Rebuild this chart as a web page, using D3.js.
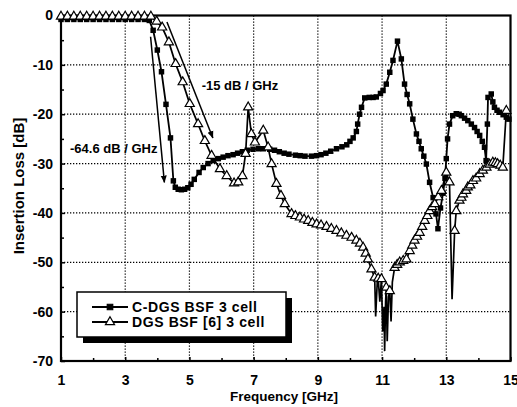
<!DOCTYPE html>
<meta charset="utf-8">
<style>
  body { margin: 0; background: #fff; }
  text { font-family: "Liberation Sans", Arial, sans-serif; font-weight: bold; fill: #000; }
</style>
<svg width="517" height="407"></svg>
<script src="https://d3js.org/d3.v7.min.js"></script>
<script>
	// tick values
	var xTicks = [1, 3, 5, 7, 9, 11, 13, 15];
	var xMinor = [2, 4, 6, 8, 10, 12, 14];
	var yTicks = [0, -10, -20, -30, -40, -50, -60, -70];
	var yMinor = [-5, -15, -25, -35, -45, -55, -65];

	// C-DGS BSF 3 cell (filled squares)
	var cdgsFreq = [1.0, 1.2, 1.4, 1.6, 1.8, 2.0, 2.2, 2.4, 2.6, 2.8, 3.0, 3.2, 3.4, 3.6, 3.75, 3.87, 4.0, 4.13, 4.27, 4.41,
		4.5, 4.56, 4.65, 4.75, 4.85, 4.95, 5.05, 5.15, 5.3, 5.43, 5.58, 5.74, 5.9, 6.05, 6.2, 6.36, 6.5, 6.65, 6.8, 6.98,
		7.15, 7.3, 7.5, 7.65, 7.8, 7.95, 8.1, 8.3, 8.45, 8.6, 8.8, 8.96, 9.1, 9.25, 9.4, 9.58, 9.75, 9.9, 10.0, 10.1,
		10.2, 10.24, 10.3, 10.36, 10.46, 10.6, 10.72, 10.82, 10.95, 11.03, 11.13, 11.24, 11.34, 11.48, 11.6, 11.7, 11.78, 11.86, 11.96, 12.07,
		12.15, 12.22, 12.3, 12.38, 12.48, 12.59, 12.68, 12.74, 12.82, 12.9, 12.96, 13.0, 13.04, 13.1, 13.2, 13.31, 13.4, 13.47, 13.57, 13.67,
		13.78, 13.88, 13.96, 14.04, 14.12, 14.19, 14.24, 14.28, 14.3, 14.4, 14.45, 14.5, 14.58, 14.66, 14.77, 14.87, 14.95];
	var cdgsLoss = [-0.8, -0.8, -0.8, -0.8, -0.8, -0.8, -0.8, -0.8, -0.8, -0.8, -0.8, -0.8, -0.8, -0.8, -1.0, -3.0, -7.0, -11.4, -18.0, -24.8,
		-33.5, -34.8, -35.2, -35.3, -35.2, -34.9, -34.2, -33.2, -31.8, -30.8, -30.0, -29.4, -29.0, -28.7, -28.4, -28.2, -27.9, -27.6, -27.3, -27.1,
		-27.0, -27.0, -27.1, -27.3, -27.6, -27.9, -28.1, -28.3, -28.4, -28.5, -28.5, -28.4, -28.2, -27.9, -27.5, -27.0, -26.6, -26.2, -25.5, -24.8,
		-23.5, -22.0, -20.0, -18.6, -16.7, -16.6, -16.6, -16.5, -15.8, -15.2, -13.9, -11.5, -9.1, -5.2, -8.8, -13.9, -16.0, -17.9, -21.0, -24.0,
		-25.5, -27.0, -28.5, -30.1, -33.8, -36.9, -40.2, -43.2, -39.0, -36.0, -33.0, -29.0, -25.0, -22.0, -20.3, -19.9, -20.0, -20.3, -20.8, -21.3,
		-22.0, -22.7, -23.5, -24.3, -25.5, -26.7, -29.4, -22.0, -16.6, -15.9, -17.5, -18.6, -19.2, -19.6, -20.1, -20.6, -21.0];

	// DGS BSF [6] 3 cell (open triangles)
	var dgsFreq = [1.0, 1.2, 1.4, 1.6, 1.8, 2.0, 2.2, 2.4, 2.6, 2.8, 3.0, 3.2, 3.4, 3.6, 3.8,
		3.98, 4.15, 4.36, 4.57, 4.79, 5.01, 5.27, 5.48, 5.69, 5.95,
		6.16, 6.39, 6.52, 6.65, 6.75, 6.83, 6.93, 7.04, 7.3, 7.45,
		7.56, 7.71, 7.85, 7.97, 8.18, 8.3, 8.44, 8.57, 8.7, 8.83,
		8.96, 9.1, 9.27, 9.42, 9.58, 9.73, 9.89, 10.05, 10.2, 10.31,
		10.41, 10.49, 10.56, 10.67, 10.77, 10.88, 10.98, 11.13, 11.24, 11.39,
		11.47, 11.55, 11.66, 11.76, 11.86, 11.94, 12.01, 12.09, 12.17, 12.25,
		12.33, 12.41, 12.48, 12.56, 12.64, 12.75, 12.85, 13.0, 13.1, 13.26,
		13.31, 13.41, 13.47, 13.52, 13.62, 13.67, 13.75, 13.83, 13.93, 14.04,
		14.14, 14.25, 14.35, 14.45, 14.53, 14.6, 14.68, 14.76, 14.87];
	var dgsLoss = [-0.2, -0.2, -0.2, -0.2, -0.2, -0.2, -0.2, -0.2, -0.2, -0.2, -0.2, -0.2, -0.2, -0.2, -0.2,
		-1.2, -2.4, -5.4, -9.8, -13.5, -17.9, -22.0, -25.4, -28.4, -31.1,
		-32.5, -34.0, -33.8, -32.5, -28.0, -18.6, -24.0, -25.7, -23.3, -26.7,
		-30.1, -34.1, -36.5, -38.2, -40.2, -40.6, -40.9, -41.3, -41.6, -42.0,
		-42.3, -42.5, -42.8, -43.2, -43.6, -44.1, -44.6, -45.0, -45.6, -46.2,
		-47.0, -48.2, -49.4, -51.4, -53.1, -53.3, -53.4, -55.1, -55.8, -51.1,
		-50.5, -50.0, -49.7, -49.4, -47.7, -46.6, -45.6, -44.8, -44.0, -42.8,
		-41.6, -40.6, -39.6, -38.8, -38.2, -36.8, -35.5, -31.8, -33.8, -43.6,
		-39.6, -37.5, -36.9, -36.2, -35.5, -34.8, -34.4, -33.5, -33.0, -32.1,
		-31.4, -30.8, -30.2, -29.8, -29.9, -30.1, -30.4, -30.8, -19.3];
	// measured spikes on the DGS trace (line only, no marker)
	var dgsSpikeFreq = [10.8, 10.85, 10.93, 11.02, 11.06, 11.08, 11.11, 11.16, 11.2, 11.28, 11.32, 13.18];
	var dgsSpikeLoss = [-61, -54, -58, -64, -59, -68, -58, -66, -57, -62, -54, -57.5];

	var svg = d3.select("svg"),
			plotL = 61, plotR = 510.5, plotT = 15.5, plotB = 361;

	var x = d3.scaleLinear().domain([1, 15]).range([plotL, plotR]);
	var y = d3.scaleLinear().domain([0, -70]).range([plotT, plotB]);

	// dotted grid
	svg.append("g").selectAll("line").data(xTicks.slice(1, -1)).enter().append("line")
		.attr("x1", function(d) { return x(d); }).attr("x2", function(d) { return x(d); })
		.attr("y1", plotT).attr("y2", plotB)
		.attr("stroke", "#000").attr("stroke-width", 1.2).attr("stroke-dasharray", "1.3,1.7");
	svg.append("g").selectAll("line").data(yTicks.slice(1, -1)).enter().append("line")
		.attr("y1", function(d) { return y(d); }).attr("y2", function(d) { return y(d); })
		.attr("x1", plotL).attr("x2", plotR)
		.attr("stroke", "#000").attr("stroke-width", 1.2).attr("stroke-dasharray", "1.3,1.7");

	// axes, ticks pointing inwards
	var gx = svg.append("g").attr("transform", "translate(0," + plotB + ")")
		.call(d3.axisBottom(x).tickValues(xTicks).tickSizeInner(-4).tickSizeOuter(0).tickPadding(14)
			.tickFormat(function(d) { return String(d); }));
	var gy = svg.append("g").attr("transform", "translate(" + plotL + ",0)")
		.call(d3.axisLeft(y).tickValues(yTicks).tickSizeInner(-4).tickSizeOuter(0).tickPadding(8)
			.tickFormat(function(d) { return String(d); }));
	[gx, gy].forEach(function(g) {
		g.select(".domain").remove();
		g.selectAll("line").attr("stroke", "#000").attr("stroke-width", 1.5);
		g.selectAll("text").attr("font-size", 14).attr("font-family", null);
	});
	svg.append("g").attr("transform", "translate(0," + plotB + ")")
		.call(d3.axisBottom(x).tickValues(xMinor).tickSizeInner(-3).tickSizeOuter(0).tickFormat(""))
		.call(function(g) { g.select(".domain").remove(); g.selectAll("line").attr("stroke-width", 1.5); });
	svg.append("g").attr("transform", "translate(" + plotL + ",0)")
		.call(d3.axisLeft(y).tickValues(yMinor).tickSizeInner(-3).tickSizeOuter(0).tickFormat(""))
		.call(function(g) { g.select(".domain").remove(); g.selectAll("line").attr("stroke-width", 1.5); });

	svg.append("rect")
		.attr("x", plotL).attr("y", plotT).attr("width", plotR - plotL).attr("height", plotB - plotT)
		.attr("fill", "none").attr("stroke", "#000").attr("stroke-width", 2.2);

	// axis titles
	svg.append("text").attr("x", 284).attr("y", 400.5).attr("text-anchor", "middle")
		.attr("font-size", 13.5).text("Frequency [GHz]");
	svg.append("text").attr("transform", "translate(24,186) rotate(-90)").attr("text-anchor", "middle")
		.attr("font-size", 15).text("Insertion Loss [dB]");

	var line = d3.line()
		.x(function(d) { return x(d.f); })
		.y(function(d) { return y(d.v); });

	var cdgs = cdgsFreq.map(function(f, i) { return {f: f, v: cdgsLoss[i]}; });
	var dgs = dgsFreq.map(function(f, i) { return {f: f, v: dgsLoss[i]}; });
	var dgsTrace = dgs.concat(dgsSpikeFreq.map(function(f, i) { return {f: f, v: dgsSpikeLoss[i]}; }))
		.sort(function(a, b) { return a.f - b.f; });

	var square = d3.symbol().type(d3.symbolSquare).size(30);
	var triangle = d3.symbol().type(d3.symbolTriangle).size(36);

	svg.append("path").datum(cdgs).attr("d", line)
		.attr("fill", "none").attr("stroke", "#000").attr("stroke-width", 1.8);
	svg.append("g").selectAll("path").data(cdgs).enter().append("path")
		.attr("transform", function(d) { return "translate(" + x(d.f) + "," + y(d.v) + ")"; })
		.attr("d", square).attr("fill", "#000");

	svg.append("path").datum(dgsTrace).attr("d", line)
		.attr("fill", "none").attr("stroke", "#000").attr("stroke-width", 1.7);
	svg.append("g").selectAll("path").data(dgs).enter().append("path")
		.attr("transform", function(d) { return "translate(" + x(d.f) + "," + y(d.v) + ")"; })
		.attr("d", triangle).attr("fill", "#fff").attr("stroke", "#000").attr("stroke-width", 1.2);

	// slope annotations
	svg.append("defs").append("marker")
		.attr("id", "head").attr("viewBox", "0 0 10 10").attr("refX", 9).attr("refY", 5)
		.attr("markerWidth", 5).attr("markerHeight", 6).attr("orient", "auto")
		.append("path").attr("d", "M0,1L10,5L0,9z").attr("fill", "#000");
	var arrows = [[4.30, -1.3, 5.73, -24.8], [3.79, -4.3, 4.22, -33.8]];
	svg.append("g").selectAll("line").data(arrows).enter().append("line")
		.attr("x1", function(d) { return x(d[0]); }).attr("y1", function(d) { return y(d[1]); })
		.attr("x2", function(d) { return x(d[2]); }).attr("y2", function(d) { return y(d[3]); })
		.attr("stroke", "#000").attr("stroke-width", 1.5).attr("marker-end", "url(#head)");
	svg.append("text").attr("x", x(5.38)).attr("y", y(-15.1)).attr("font-size", 13).text("-15 dB / GHz");
	svg.append("text").attr("x", x(1.28)).attr("y", y(-27.9)).attr("font-size", 13).text("-64.6 dB / GHz");

	// legend with drop shadow
	var lg = svg.append("g").attr("transform", "translate(77,292)");
	lg.append("rect").attr("x", 6).attr("y", 6).attr("width", 209).attr("height", 45).attr("fill", "#000");
	lg.append("rect").attr("width", 209).attr("height", 45).attr("fill", "#fff").attr("stroke", "#000").attr("stroke-width", 1.5);
	var entries = [
		{label: "C-DGS BSF 3 cell", sym: square, fill: "#000"},
		{label: "DGS BSF [6] 3 cell", sym: triangle, fill: "#fff"}
	];
	var row = lg.selectAll("g.entry").data(entries).enter().append("g")
		.attr("class", "entry")
		.attr("transform", function(d, i) { return "translate(0," + (15 + i * 15) + ")"; });
	row.append("line").attr("x1", 15).attr("x2", 51).attr("stroke", "#000").attr("stroke-width", 1.8);
	row.append("path").attr("transform", "translate(33,0)")
		.attr("d", function(d) { return d.sym(); })
		.attr("fill", function(d) { return d.fill; }).attr("stroke", "#000").attr("stroke-width", 1.2);
	row.append("text").attr("x", 55).attr("y", 5).attr("font-size", 14).attr("letter-spacing", 0.6)
		.text(function(d) { return d.label; });
</script>
